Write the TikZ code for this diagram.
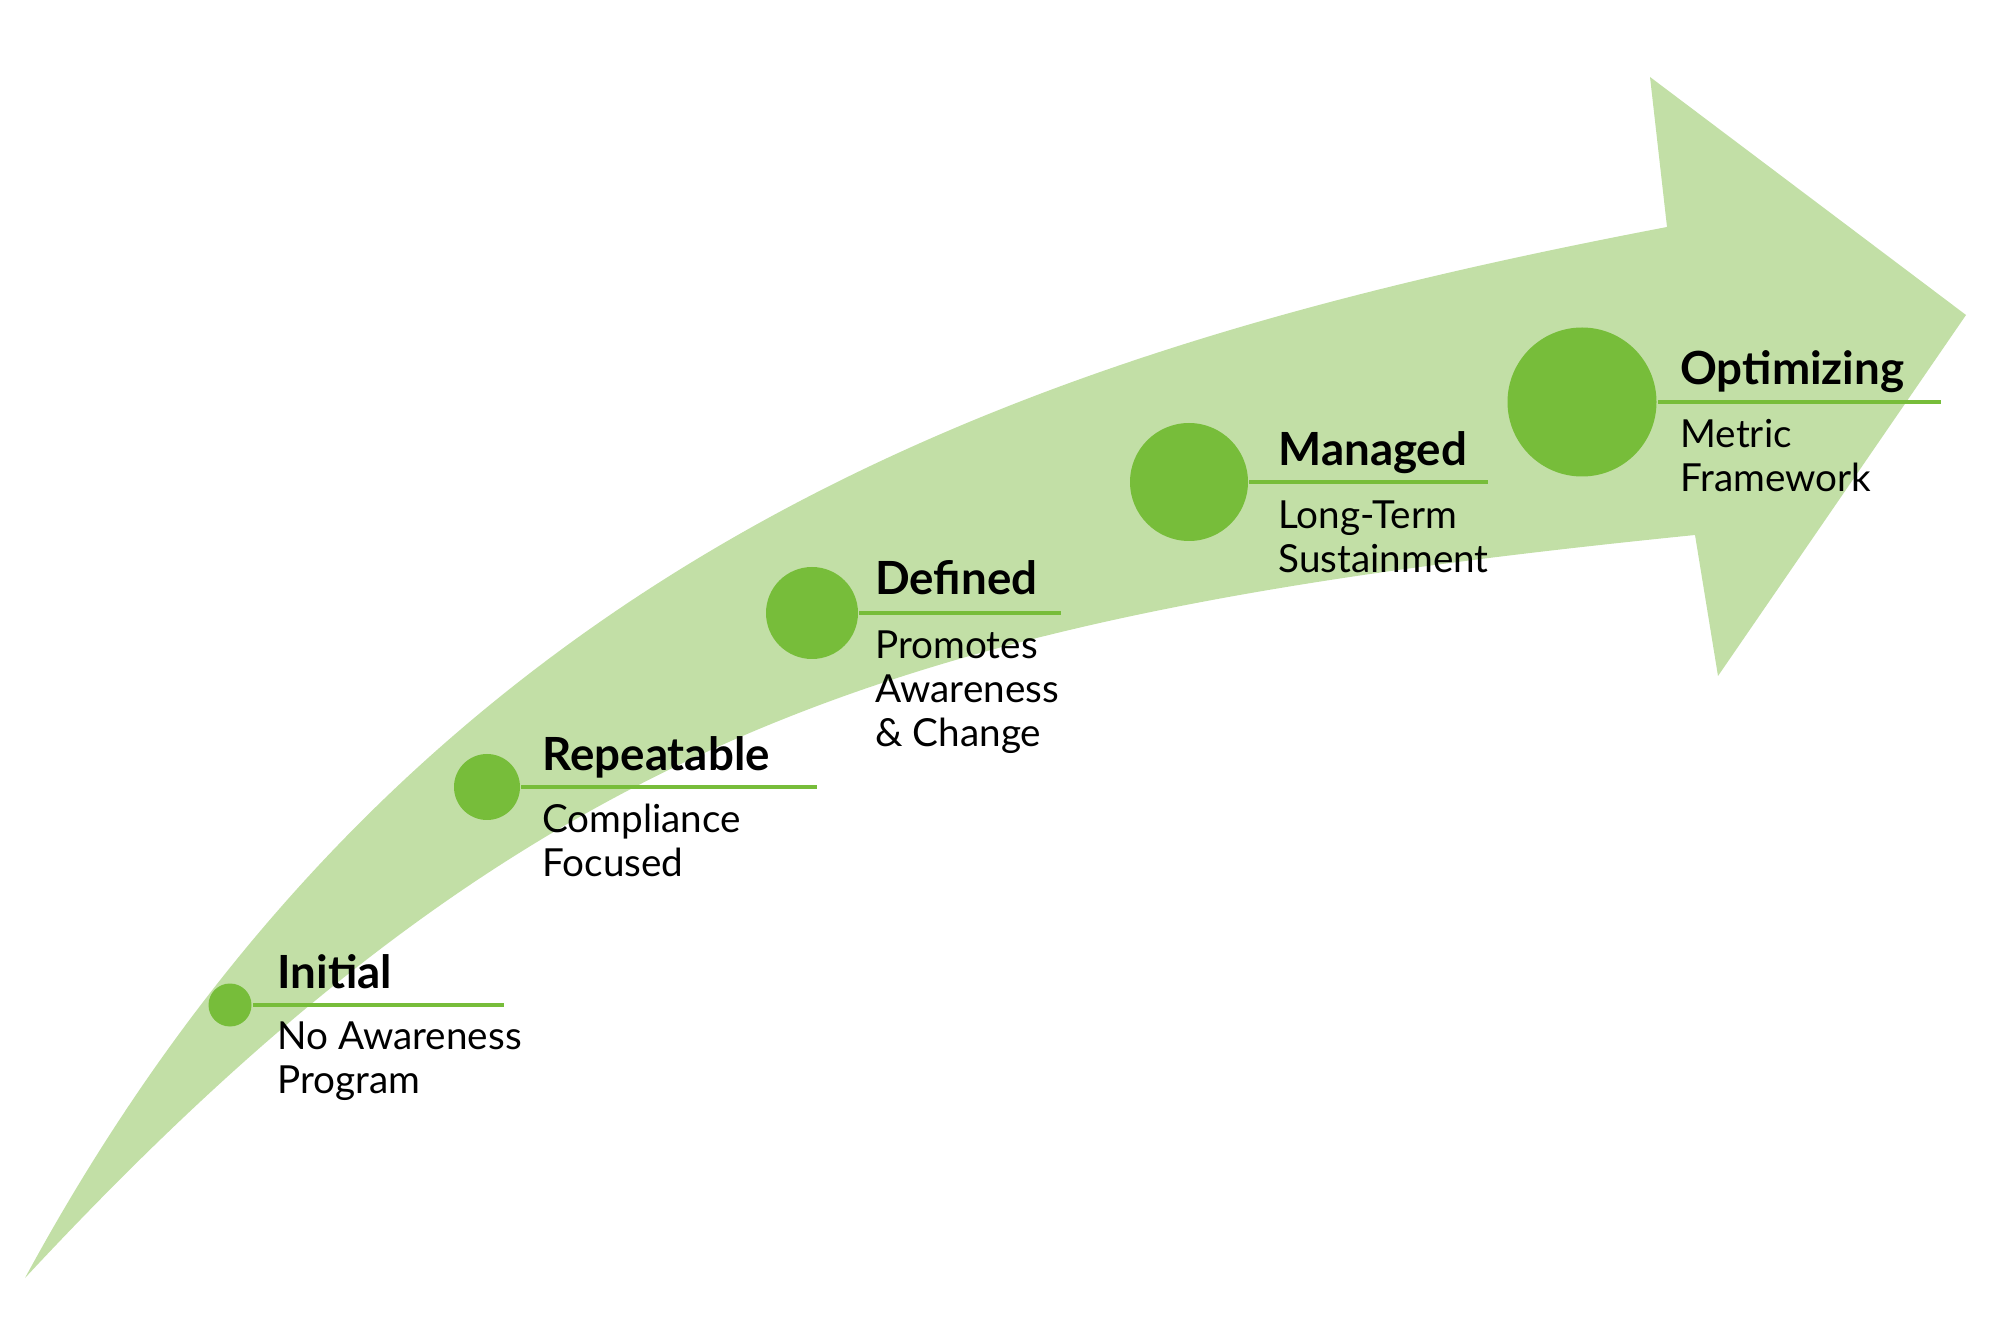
\documentclass[tikz,border=0pt]{standalone}
\usepackage{fontspec}
\setmainfont{Lato}
\usetikzlibrary{positioning}
\definecolor{leaf}{HTML}{77BD3A}
\definecolor{band}{HTML}{C2DFA6}

\begin{document}
\begin{tikzpicture}[thick,
	dot/.style={circle, fill=leaf, inner sep=0pt},
	rule/.style={draw=leaf, line width=1pt},
	title/.style={anchor=base west, inner sep=0pt, font=\fontsize{13}{15.6}\selectfont\bfseries},
	sub/.style={anchor=base west, inner sep=0pt, font=\fontsize{11}{12.5}\selectfont}]

	\useasboundingbox (0,0) rectangle (20,13.33);

	% Arrow
	\fill[band] (0.25,0.55) .. controls (4.25,7.93) and (10.50,9.88) .. (16.67,11.06)
		-- (16.50,12.56) -- (19.66,10.18) -- (17.18,6.57) -- (16.95,7.98)
		.. controls (9.03,7.18) and (5.35,6.03) .. cycle;

	% Stages
	\node[dot, minimum size=4.3mm] (initial) at (2.30,3.28) {};
	\node[dot, minimum size=6.6mm] (repeat) at (4.87,5.46) {};
	\node[dot, minimum size=9.2mm] (defined) at (8.12,7.20) {};
	\node[dot, minimum size=11.8mm] (managed) at (11.89,8.51) {};
	\node[dot, minimum size=14.9mm] (optim) at (15.82,9.31) {};

	% Rules
	\coordinate (initial-end) at (5.04,3.28);
	\coordinate (repeat-end) at (8.17,5.46);
	\coordinate (defined-end) at (10.61,7.20);
	\coordinate (managed-end) at (14.88,8.51);
	\coordinate (optim-end) at (19.41,9.31);
	\draw[rule] (initial) -- (initial-end);
	\draw[rule] (repeat) -- (repeat-end);
	\draw[rule] (defined) -- (defined-end);
	\draw[rule] (managed) -- (managed-end);
	\draw[rule] (optim) -- (optim-end);

	% Labels
	\node[title] (initial-t) at (2.76,3.45) {Initial};
	\node[sub] (initial-s) at (2.76,2.83) {\begin{tabular}[t]{@{}l@{}}No Awareness\\Program\end{tabular}};
	\node[title] (repeat-t) at (5.41,5.62) {Repeatable};
	\node[sub] (repeat-s) at (5.41,5.00) {\begin{tabular}[t]{@{}l@{}}Compliance\\Focused\end{tabular}};
	\node[title] (defined-t) at (8.74,7.38) {Defined};
	\node[sub] (defined-s) at (8.74,6.74) {\begin{tabular}[t]{@{}l@{}}Promotes\\Awareness\\\& Change\end{tabular}};
	\node[title] (managed-t) at (12.77,8.67) {Managed};
	\node[sub] (managed-s) at (12.77,8.04) {\begin{tabular}[t]{@{}l@{}}Long-Term\\Sustainment\end{tabular}};
	\node[title] (optim-t) at (16.79,9.48) {Optimizing};
	\node[sub] (optim-s) at (16.79,8.85) {\begin{tabular}[t]{@{}l@{}}Metric\\Framework\end{tabular}};
\end{tikzpicture}
\end{document}
